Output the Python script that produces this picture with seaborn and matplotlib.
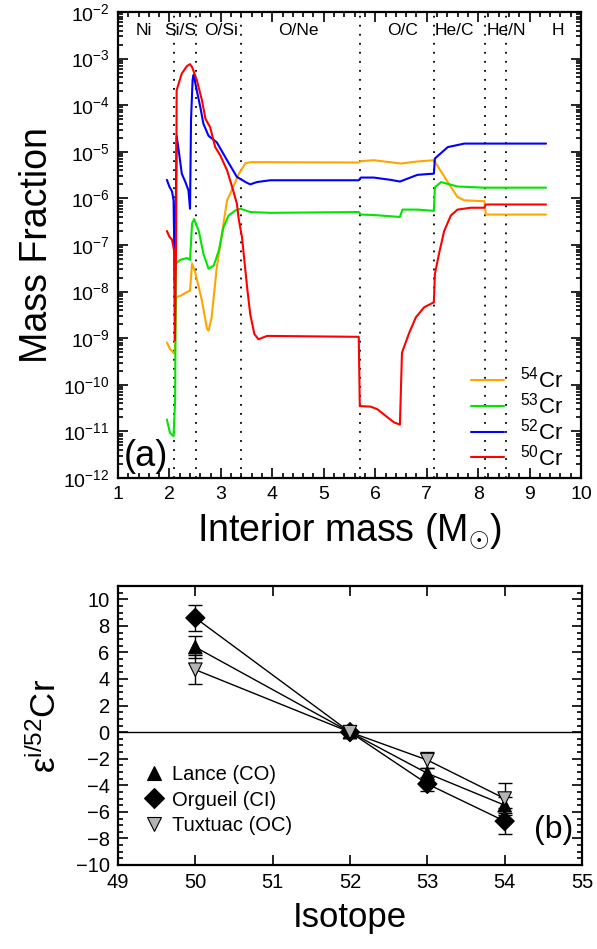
import numpy as np
import pandas as pd
import matplotlib
matplotlib.use("Agg")
import matplotlib.pyplot as plt
import seaborn as sns
from matplotlib.ticker import LogLocator, MultipleLocator, FuncFormatter, NullFormatter

# ---------------- data: panel (a) ----------------
m54 = [1.95, 2.01, 2.09, 2.105, 2.13, 2.21, 2.34, 2.40, 2.44, 2.50, 2.63, 2.73, 2.76, 2.82,
       2.92, 3.02, 3.12, 3.18, 3.35, 3.48, 3.60, 5.68, 5.72, 5.97, 6.50, 6.82, 7.14, 7.41,
       7.60, 7.73, 8.12, 8.15, 9.32]
x54 = [8.1e-10, 5.9e-10, 4.7e-10, 4.7e-10, 7.6e-9, 8.1e-9, 9.8e-9, 1.05e-8, 4.0e-8, 2.6e-8,
       6.5e-9, 1.6e-9, 1.45e-9, 2.8e-9, 3.3e-8, 1.74e-7, 9.1e-7, 1.26e-6, 3.4e-6, 5.75e-6,
       6.0e-6, 5.9e-6, 6.3e-6, 6.6e-6, 5.6e-6, 6.2e-6, 6.6e-6, 2.24e-6, 1.07e-6, 9.1e-7,
       8.7e-7, 4.5e-7, 4.5e-7]

m53 = [1.95, 2.01, 2.08, 2.11, 2.125, 2.21, 2.34, 2.40, 2.44, 2.48, 2.57, 2.66, 2.76, 2.86,
       2.96, 3.05, 3.15, 3.28, 3.38, 3.57, 3.96, 5.68, 5.72, 5.97, 6.48, 6.53, 6.82, 7.14,
       7.16, 7.28, 7.60, 8.12, 9.32]
x53 = [1.8e-11, 9.3e-12, 7.9e-12, 4.6e-11, 4.0e-8, 4.8e-8, 5.25e-8, 4.8e-8, 2.9e-7, 3.6e-7,
       2.0e-7, 6.5e-8, 3.1e-8, 3.6e-8, 7.6e-8, 2.4e-7, 4.3e-7, 5.5e-7, 6.0e-7, 5.1e-7,
       4.9e-7, 5.1e-7, 4.5e-7, 4.4e-7, 4.0e-7, 5.75e-7, 5.75e-7, 5.4e-7, 1.74e-6, 2.24e-6,
       1.8e-6, 1.7e-6, 1.7e-6]

m52 = [1.95, 2.00, 2.05, 2.08, 2.105, 2.14, 2.18, 2.24, 2.31, 2.37, 2.40, 2.42, 2.45, 2.47,
       2.53, 2.60, 2.66, 2.76, 2.92, 3.12, 3.31, 3.48, 3.57, 3.70, 3.96, 5.68, 5.72, 5.97,
       6.30, 6.48, 6.82, 7.14, 7.16, 7.41, 7.73, 9.32]
x52 = [2.5e-6, 1.78e-6, 1.41e-6, 9.1e-7, 1.5e-8, 2.2e-5, 1.07e-5, 3.4e-6, 2.24e-6, 1.48e-6,
       6.0e-7, 5.0e-5, 3.5e-4, 4.5e-4, 2.1e-4, 9.1e-5, 4.0e-5, 2.2e-5, 1.6e-5, 6.6e-6,
       2.9e-6, 2.24e-6, 2.0e-6, 2.24e-6, 2.45e-6, 2.45e-6, 2.8e-6, 2.8e-6, 2.5e-6, 2.3e-6,
       3.2e-6, 3.4e-6, 7.2e-6, 1.26e-5, 1.5e-5, 1.5e-5]

m50 = [1.95, 2.00, 2.05, 2.09, 2.105, 2.13, 2.14, 2.24, 2.34, 2.40, 2.44, 2.53, 2.63, 2.70,
       2.79, 2.89, 2.99, 3.12, 3.22, 3.31, 3.35, 3.41, 3.51, 3.57, 3.65, 3.73, 3.90, 5.68,
       5.70, 5.91, 6.04, 6.24, 6.37, 6.48, 6.52, 6.66, 6.79, 6.95, 7.14, 7.16, 7.24, 7.34,
       7.47, 7.60, 7.86, 8.12, 8.15, 9.32]
x50 = [2.0e-7, 1.5e-7, 1.3e-7, 7.6e-8, 9e-10, 1.26e-7, 2.1e-4, 4.8e-4, 6.9e-4, 7.6e-4,
       6.6e-4, 3.5e-4, 1.3e-4, 5.1e-5, 3.4e-5, 1.26e-5, 8.3e-6, 4.0e-6, 1.74e-6, 7.8e-7,
       3.4e-7, 1.48e-7, 1.23e-8, 3.3e-9, 1.23e-9, 9.5e-10, 1.12e-9, 1.07e-9, 3.5e-11,
       3.4e-11, 3.0e-11, 2.0e-11, 1.55e-11, 1.4e-11, 4.9e-10, 1.3e-9, 2.8e-9, 4.6e-9,
       5.9e-9, 2.4e-8, 6.5e-8, 2.0e-7, 4.3e-7, 5.75e-7, 6.3e-7, 6.3e-7, 7.4e-7, 7.4e-7]

series_names = ["$^{54}$Cr", "$^{53}$Cr", "$^{52}$Cr", "$^{50}$Cr"]
series_colors = ["#ffa500", "#00e600", "#0000ff", "#ff0000"]

zone_bounds = [2.09, 2.52, 3.39, 5.70, 7.14, 8.14, 8.55]
zone_names = ["Ni", "Si/S", "O/Si", "O/Ne", "O/C", "He/C", "He/N", "H"]
zone_pos = [1.50, 2.21, 3.00, 4.51, 6.53, 7.54, 8.54, 9.55]

# ---------------- data: panel (b) ----------------
isotopes = [50, 52, 53, 54]
samples = ["Lance (CO)", "Orgueil (CI)", "Tuxtuac (OC)"]
lance = [6.4, 0.0, -3.1, -5.5]
lance_err = [0.8, 0.0, 0.4, 0.6]
orgueil = [8.6, 0.0, -3.9, -6.7]
orgueil_err = [1.0, 0.0, 0.5, 1.0]
tuxtuac = [4.7, 0.0, -2.1, -5.0]
tuxtuac_err = [1.1, 0.0, 0.6, 1.2]

# ---------------- style ----------------
sns.set_theme(style="ticks")
plt.rcParams["font.family"] = ["Liberation Sans", "DejaVu Sans"]
plt.rcParams["mathtext.fontset"] = "custom"
plt.rcParams["mathtext.rm"] = "Liberation Sans"
plt.rcParams["mathtext.it"] = "Liberation Sans:italic"
plt.rcParams["mathtext.bf"] = "Liberation Sans:bold"
for key in ["text.color", "axes.labelcolor", "xtick.color", "ytick.color",
            "axes.edgecolor"]:
    plt.rcParams[key] = "black"

W, H = 597, 949
fig = plt.figure(figsize=(W / 100, H / 100), dpi=100)

# ================= panel (a) =================
ax1 = fig.add_axes([118 / W, 1 - 478 / H, 463 / W, 466 / H])
frames = []
for name, m, x in zip(series_names, [m54, m53, m52, m50], [x54, x53, x52, x50]):
    frames.append(pd.DataFrame({"mass": m, "frac": x, "iso": name}))
dfa = pd.concat(frames, ignore_index=True)

sns.lineplot(data=dfa, x="mass", y="frac", hue="iso", hue_order=series_names,
             palette=dict(zip(series_names, series_colors)), sort=False,
             estimator=None, lw=1.5, ax=ax1)
ax1.set_yscale("log")
ax1.set_xlim(1, 10)
ax1.set_ylim(1e-12, 1e-2)

for b in zone_bounds:
    ax1.axvline(b, color="black", lw=1.3, ls=(0, (1, 4)), zorder=1)
for name, p in zip(zone_names, zone_pos):
    ax1.text(p, 4.1e-3, name, ha="center", va="center", fontsize=12.5)

ax1.yaxis.set_major_locator(LogLocator(base=10, numticks=20))
ax1.yaxis.set_minor_locator(LogLocator(base=10, subs=np.arange(2, 10), numticks=100))
ax1.yaxis.set_minor_formatter(NullFormatter())
ax1.yaxis.set_major_formatter(FuncFormatter(
    lambda v, p: r"$\mathregular{10^{%d}}$" % int(round(np.log10(v)))))
ax1.xaxis.set_major_locator(MultipleLocator(1))
ax1.xaxis.set_minor_locator(MultipleLocator(0.2))
ax1.tick_params(which="both", direction="in", top=True, right=True, width=1.2,
                labelsize=14, pad=6, colors="black")
ax1.tick_params(which="major", length=7)
ax1.tick_params(which="minor", length=3.5)
for s in ax1.spines.values():
    s.set_linewidth(1.6)
    s.set_color("black")

ax1.set_xlabel(r"Interior mass (M$_{\odot}$)", fontsize=27, labelpad=6)
ax1.set_ylabel("Mass Fraction", fontsize=27, labelpad=6)

h, l = ax1.get_legend_handles_labels()
ax1.legend(h, l, loc="lower right", bbox_to_anchor=(0.99, -0.012), frameon=False,
           fontsize=16, handlelength=1.5, handletextpad=0.7, labelspacing=0.0,
           borderaxespad=0.2)
ax1.text(0.012, 0.025, "(a)", transform=ax1.transAxes, fontsize=26,
         ha="left", va="baseline")

# ================= panel (b) =================
ax2 = fig.add_axes([118 / W, 1 - 865 / H, 464 / W, 279 / H])
dfb = pd.DataFrame({
    "isotope": isotopes * 3,
    "eps": lance + orgueil + tuxtuac,
    "err": lance_err + orgueil_err + tuxtuac_err,
    "sample": [samples[0]] * 4 + [samples[1]] * 4 + [samples[2]] * 4,
})

ax2.axhline(0, color="black", lw=1.0, zorder=1)
sns.lineplot(data=dfb, x="isotope", y="eps", hue="sample",
             palette={s: "black" for s in samples}, estimator=None, sort=False,
             lw=1.0, legend=False, ax=ax2, zorder=2)
ax2.errorbar(dfb["isotope"], dfb["eps"], yerr=dfb["err"], fmt="none", ecolor="black",
             elinewidth=1.0, capsize=5, capthick=1.0, zorder=2)
sns.scatterplot(data=dfb, x="isotope", y="eps", hue="sample", style="sample",
                hue_order=samples, style_order=samples,
                palette={samples[0]: "black", samples[1]: "black", samples[2]: "#b4b4b4"},
                markers={samples[0]: "^", samples[1]: "D", samples[2]: "v"},
                s=95, edgecolor="black", linewidth=0.8, zorder=3, ax=ax2)

ax2.set_xlim(49, 55)
ax2.set_ylim(-10, 11)
ax2.xaxis.set_major_locator(MultipleLocator(1))
ax2.yaxis.set_major_locator(MultipleLocator(2))
ax2.yaxis.set_minor_locator(MultipleLocator(0.5))
ax2.tick_params(which="both", direction="in", top=True, right=True, width=1.2,
                labelsize=14.5, pad=6, colors="black")
ax2.tick_params(which="major", length=7)
ax2.tick_params(which="minor", length=3.5)
for s in ax2.spines.values():
    s.set_linewidth(1.6)
    s.set_color("black")

ax2.set_xlabel("Isotope", fontsize=25, labelpad=6)
ax2.set_ylabel(r"ε$^{\mathregular{i/52}}$Cr", fontsize=25, labelpad=9)

h, l = ax2.get_legend_handles_labels()
ax2.legend(h, l, loc="upper left", bbox_to_anchor=(0.03, 0.40), frameon=False,
           fontsize=14.5, handlelength=1.0, handletextpad=0.4, labelspacing=0.3,
           borderaxespad=0.2)
ax2.text(0.897, 0.095, "(b)", transform=ax2.transAxes, fontsize=23,
         ha="left", va="baseline")

fig.savefig("out.png", dpi=100)
